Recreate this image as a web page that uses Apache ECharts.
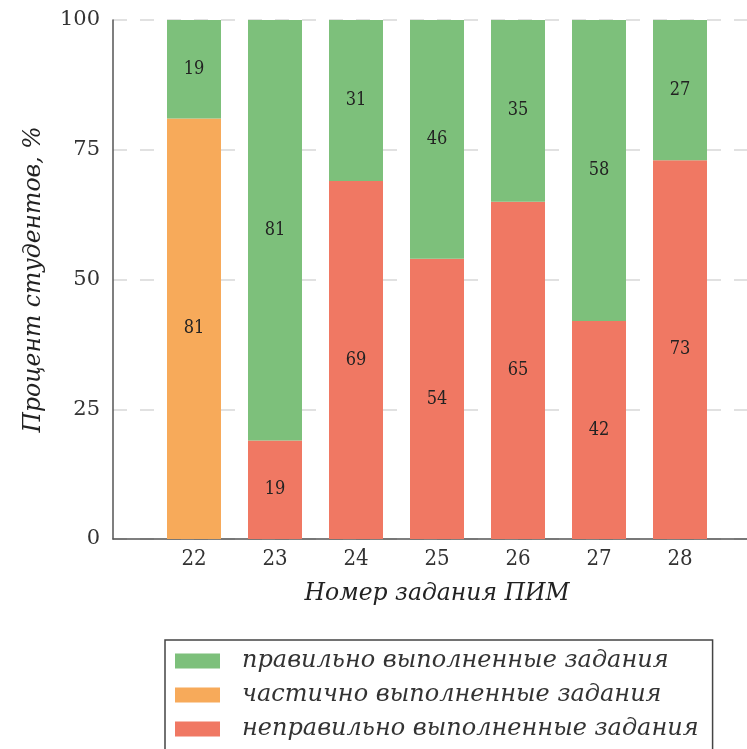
<!DOCTYPE html>
<html>
<head>
<meta charset="utf-8">
<script src="https://cdn.jsdelivr.net/npm/echarts@6/dist/echarts.min.js"></script>
<style>
html, body { margin: 0; padding: 0; background: #fff; }
#container { width: 747px; height: 749px; }
</style>
</head>
<body>
<div id="container"></div>
<script>
// номера заданий ПИМ (21 и 29 - пустые края оси)
var categories = ['21', '22', '23', '24', '25', '26', '27', '28', '29'];
var correct = [null, 19, 81, 31, 46, 35, 58, 27, null];
var partial = [null, 81, 0, 0, 0, 0, 0, 0, null];
var incorrect = [null, 0, 19, 69, 54, 65, 42, 73, null];
var yTicks = [0, 25, 50, 75, 100];

var names = ['правильно выполненные задания', 'частично выполненные задания', 'неправильно выполненные задания'];
var colors = ['#7dc07b', '#f7aa5a', '#f07863'];

function makeSeries(name, vals, color) {
    return {
        name: name,
        type: 'bar',
        stack: 'all',
        barWidth: 54,
        data: vals,
        itemStyle: { color: color },
        label: {
            show: true,
            position: 'inside',
            fontFamily: 'DejaVu Serif',
            fontWeight: 'normal condensed',
            fontSize: 18,
            color: '#222',
            formatter: function (p) { return p.value ? p.value : ''; }
        }
    };
}

var dom = document.getElementById("container");
var myChart = echarts.init(dom);
var option = {
    animation: false,
    textStyle: { fontFamily: 'DejaVu Serif' },
    grid: { left: 113, width: 648, top: 20, bottom: 210, outerBoundsMode: 'none' },
    xAxis: {
        type: 'category',
        data: categories,
        boundaryGap: false,
        name: 'Номер задания ПИМ',
        nameLocation: 'middle',
        nameGap: 43,
        nameTextStyle: { fontSize: 23.5, fontStyle: 'italic', color: '#222' },
        axisLine: { show: true, lineStyle: { color: '#555', width: 1.5 } },
        axisTick: { show: false },
        splitLine: { show: false },
        axisLabel: {
            margin: 9,
            fontSize: 22,
            fontWeight: 'normal condensed',
            color: '#333',
            interval: 0,
            formatter: function (v, i) { return (i === 0 || i === categories.length - 1) ? '' : v; }
        }
    },
    yAxis: {
        type: 'value',
        min: yTicks[0],
        max: yTicks[yTicks.length - 1],
        interval: 25,
        name: 'Процент студентов, %',
        nameLocation: 'middle',
        nameGap: 68,
        nameTextStyle: { fontSize: 23.5, fontStyle: 'italic', color: '#222' },
        axisLine: { show: true, lineStyle: { color: '#555', width: 1.5 } },
        axisTick: { show: false },
        axisLabel: { margin: 13, fontSize: 21, color: '#333' },
        splitLine: { show: true, lineStyle: { color: '#d8d8d8', width: 1.5, type: [14, 13] } }
    },
    legend: {
        orient: 'vertical',
        left: 165,
        top: 640,
        height: 200,
        padding: [9, 14, 16, 10],
        itemWidth: 45,
        itemHeight: 15,
        itemGap: 10,
        borderColor: '#444',
        borderWidth: 1.5,
        icon: 'rect',
        data: names,
        textStyle: { fontSize: 24, lineHeight: 24, fontStyle: 'italic', color: '#333', padding: [0, 0, 0, 17] }
    },
    series: [
        makeSeries(names[2], incorrect, colors[2]),
        makeSeries(names[1], partial, colors[1]),
        makeSeries(names[0], correct, colors[0])
    ]
};
myChart.setOption(option, true);
</script>
</body>
</html>
